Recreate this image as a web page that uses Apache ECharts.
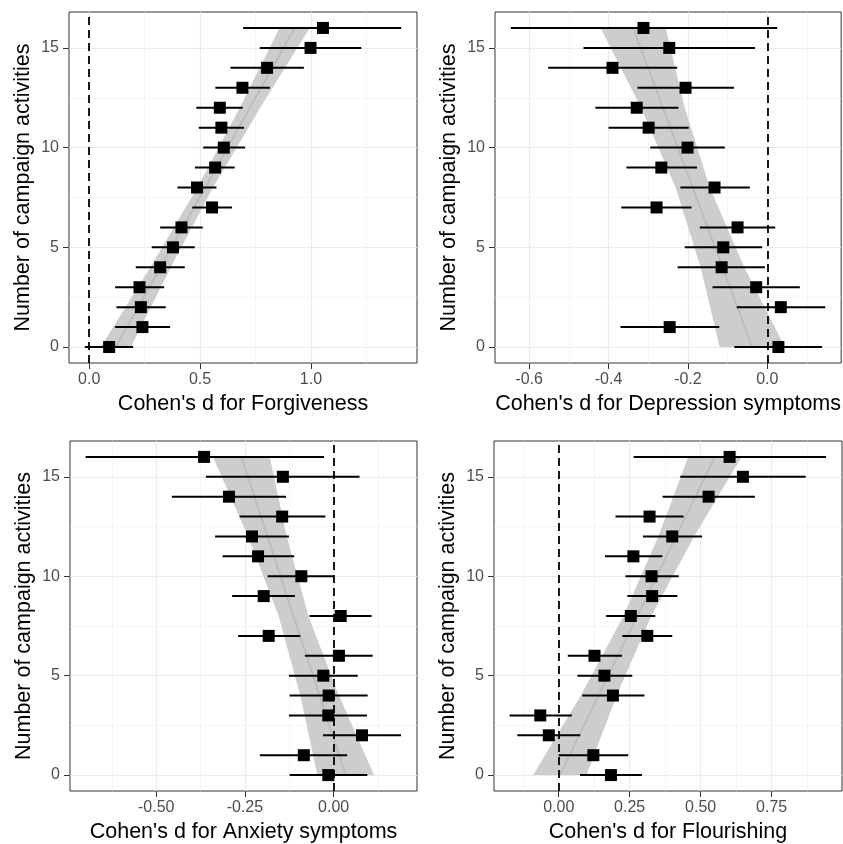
<!DOCTYPE html>
<html>
<head>
<meta charset="utf-8">
<script src="https://cdn.jsdelivr.net/npm/echarts@6/dist/echarts.min.js"></script>
<style>
  html, body { margin: 0; padding: 0; background: #fff; }
  #chart_box { width: 843px; height: 844px; }
</style>
</head>
<body>
<div id="chart_box"></div>
<script>
// number of campaign activities (y of every row)
var activityCounts = [0, 1, 2, 3, 4, 5, 6, 7, 8, 9, 10, 11, 12, 13, 14, 15, 16];
var yTicks = [0, 5, 10, 15];

// Forgiveness
var forgEst = [0.090, 0.240, 0.233, 0.227, 0.320, 0.378, 0.416, 0.554, 0.486, 0.568, 0.607, 0.596, 0.589, 0.691, 0.802, 0.998, 1.054];
var forgLo  = [-0.020, 0.117, 0.123, 0.117, 0.210, 0.282, 0.320, 0.465, 0.398, 0.477, 0.514, 0.494, 0.483, 0.569, 0.637, 0.769, 0.694];
var forgHi  = [0.198, 0.365, 0.345, 0.338, 0.431, 0.476, 0.512, 0.644, 0.574, 0.656, 0.703, 0.698, 0.692, 0.815, 0.968, 1.227, 1.407];

// Depression symptoms
var deprEst = [0.028, -0.246, 0.034, -0.028, -0.115, -0.111, -0.075, -0.279, -0.133, -0.267, -0.201, -0.299, -0.329, -0.206, -0.390, -0.247, -0.312];
var deprLo  = [-0.083, -0.370, -0.077, -0.138, -0.226, -0.208, -0.170, -0.368, -0.219, -0.355, -0.295, -0.400, -0.433, -0.327, -0.552, -0.463, -0.646];
var deprHi  = [0.138, -0.121, 0.146, 0.082, -0.006, -0.013, 0.020, -0.191, -0.044, -0.177, -0.107, -0.198, -0.224, -0.084, -0.227, -0.031, 0.025];

// Anxiety symptoms
var anxEst = [-0.015, -0.084, 0.080, -0.015, -0.014, -0.029, 0.015, -0.183, 0.020, -0.197, -0.091, -0.213, -0.230, -0.145, -0.295, -0.143, -0.365];
var anxLo  = [-0.124, -0.208, -0.030, -0.126, -0.124, -0.126, -0.081, -0.269, -0.068, -0.286, -0.186, -0.313, -0.334, -0.265, -0.456, -0.360, -0.699];
var anxHi  = [0.095, 0.038, 0.190, 0.094, 0.096, 0.068, 0.110, -0.094, 0.107, -0.109, 0.000, -0.111, -0.126, -0.023, -0.134, 0.073, -0.027];

// Flourishing
var flourEst = [0.184, 0.122, -0.035, -0.065, 0.191, 0.161, 0.126, 0.312, 0.254, 0.329, 0.327, 0.263, 0.400, 0.320, 0.528, 0.649, 0.602];
var flourLo  = [0.075, 0.000, -0.146, -0.173, 0.083, 0.066, 0.032, 0.224, 0.167, 0.242, 0.235, 0.163, 0.297, 0.200, 0.366, 0.428, 0.264];
var flourHi  = [0.293, 0.245, 0.076, 0.046, 0.302, 0.259, 0.223, 0.400, 0.340, 0.418, 0.423, 0.365, 0.505, 0.440, 0.691, 0.870, 0.942];

// regression band (read at these y levels) and fitted line ends (y = 0 and y = 16)
var bandY = [0, 4, 8, 12, 16];
var forgBandLo  = [0.052, 0.276, 0.488, 0.679, 0.858];
var forgBandHi  = [0.188, 0.368, 0.558, 0.771, 0.994];
var deprBandLo  = [-0.120, -0.168, -0.231, -0.318, -0.420];
var deprBandHi  = [0.044, -0.058, -0.145, -0.208, -0.256];
var anxBandLo   = [-0.046, -0.094, -0.155, -0.241, -0.340];
var anxBandHi   = [0.114, 0.015, -0.071, -0.132, -0.180];
var flourBandLo = [-0.090, 0.078, 0.228, 0.351, 0.456];
var flourBandHi = [0.098, 0.204, 0.326, 0.477, 0.644];
var fitY = [0, 16];
var forgFit  = [0.120, 0.926];
var deprFit  = [-0.038, -0.338];
var anxFit   = [0.034, -0.260];
var flourFit = [0.004, 0.550];

// x axis ticks
var forgTicks  = [0, 0.5, 1.0];
var deprTicks  = [-0.6, -0.4, -0.2, 0.0];
var anxTicks   = [-0.5, -0.25, 0.0];
var flourTicks = [0, 0.25, 0.5, 0.75];

var panels = [
  { title: "Cohen's d for Forgiveness", est: forgEst, lo: forgLo, hi: forgHi, bLo: forgBandLo, bHi: forgBandHi, fit: forgFit,
    ticks: forgTicks, step: 0.5, dec: 1, min: -0.091, max: 1.478 },
  { title: "Cohen's d for Depression symptoms", est: deprEst, lo: deprLo, hi: deprHi, bLo: deprBandLo, bHi: deprBandHi, fit: deprFit,
    ticks: deprTicks, step: 0.2, dec: 1, min: -0.686, max: 0.186 },
  { title: "Cohen's d for Anxiety symptoms", est: anxEst, lo: anxLo, hi: anxHi, bLo: anxBandLo, bHi: anxBandHi, fit: anxFit,
    ticks: anxTicks, step: 0.25, dec: 2, min: -0.743, max: 0.235 },
  { title: "Cohen's d for Flourishing", est: flourEst, lo: flourLo, hi: flourHi, bLo: flourBandLo, bHi: flourBandHi, fit: flourFit,
    ticks: flourTicks, step: 0.25, dec: 2, min: -0.228, max: 0.998 }
];

var gridPos = [
  { left: 69, top: 12, width: 348, height: 351 },
  { left: 495, top: 12, width: 347, height: 351 },
  { left: 70, top: 441, width: 347, height: 351 },
  { left: 494, top: 441, width: 348, height: 351 }
];

var FONT = "Liberation Sans, Arial, sans-serif";
var grids = [], xAxes = [], yAxes = [], series = [];

panels.forEach(function (p, i) {
  grids.push(Object.assign({
    show: true, backgroundColor: "#fff", borderColor: "#333", borderWidth: 1
  }, gridPos[i]));

  xAxes.push({
    type: "value", gridIndex: i, min: p.min, max: p.max,
    minInterval: p.step, maxInterval: p.step, splitNumber: 4,
    name: p.title, nameLocation: "middle", nameGap: 30,
    nameTextStyle: { color: "#000", fontSize: 21.5, fontFamily: FONT },
    axisLine: { show: false, onZero: false },
    axisTick: { show: true, length: 6, customValues: p.ticks, lineStyle: { color: "#333", width: 1 } },
    axisLabel: {
      customValues: p.ticks, margin: 9, color: "#4D4D4D", fontSize: 16, fontFamily: FONT,
      formatter: function (v) { return v.toFixed(p.dec); }
    },
    splitLine: { show: true, lineStyle: { color: "#EBEBEB", width: 1.2 } },
    minorTick: { show: false, splitNumber: 2 },
    minorSplitLine: { show: true, lineStyle: { color: "#F0F0F0", width: 0.7 } }
  });

  yAxes.push({
    type: "value", gridIndex: i, min: -0.8, max: 16.8,
    minInterval: 5, maxInterval: 5, splitNumber: 4,
    name: "Number of campaign activities", nameLocation: "middle", nameGap: 35,
    nameTextStyle: { color: "#000", fontSize: 21.5, fontFamily: FONT },
    axisLine: { show: false, onZero: false },
    axisTick: { show: true, length: 6, customValues: yTicks, lineStyle: { color: "#333", width: 1 } },
    axisLabel: { customValues: yTicks, margin: 10, color: "#4D4D4D", fontSize: 16, fontFamily: FONT },
    splitLine: { show: true, lineStyle: { color: "#EBEBEB", width: 1.2 } },
    minorTick: { show: false, splitNumber: 2 },
    minorSplitLine: { show: true, lineStyle: { color: "#F0F0F0", width: 0.7 } }
  });

  // confidence band
  series.push({
    type: "custom", xAxisIndex: i, yAxisIndex: i, z: 1, silent: true,
    data: bandY.map(function (y, k) { return [p.bLo[k], p.bHi[k], y]; }),
    encode: { x: [0, 1], y: 2 },
    renderItem: function (params, api) {
      if (params.dataIndex !== 0) return null;
      var pts = [];
      bandY.forEach(function (y, k) { pts.push(api.coord([p.bLo[k], y])); });
      for (var k = bandY.length - 1; k >= 0; k--) pts.push(api.coord([p.bHi[k], bandY[k]]));
      return { type: "polygon", shape: { points: pts }, style: { fill: "#CDCDCD" } };
    }
  });

  // fitted line + dashed zero line
  series.push({
    type: "line", xAxisIndex: i, yAxisIndex: i, z: 2, silent: true,
    data: fitY.map(function (y, k) { return [p.fit[k], y]; }),
    symbol: "none", lineStyle: { color: "#BDBDBD", width: 2 },
    markLine: {
      silent: true, symbol: "none", label: { show: false },
      lineStyle: { color: "#000", type: [8, 5], width: 1.8 },
      data: [{ xAxis: 0 }]
    }
  });

  // horizontal error bars
  series.push({
    type: "custom", xAxisIndex: i, yAxisIndex: i, z: 3, silent: true,
    data: activityCounts.map(function (y, k) { return [p.lo[k], p.hi[k], y]; }),
    encode: { x: [0, 1], y: 2 },
    renderItem: function (params, api) {
      var a = api.coord([api.value(0), api.value(2)]);
      var b = api.coord([api.value(1), api.value(2)]);
      return { type: "line", shape: { x1: a[0], y1: a[1], x2: b[0], y2: b[1] },
               style: { stroke: "#000", lineWidth: 2 } };
    }
  });

  // point estimates
  series.push({
    type: "scatter", xAxisIndex: i, yAxisIndex: i, z: 4, silent: true,
    data: activityCounts.map(function (y, k) { return [p.est[k], y]; }),
    symbol: "rect", symbolSize: 12, itemStyle: { color: "#000", opacity: 1 }
  });
});

var mycharts = echarts.init(document.getElementById("chart_box"));
mycharts.setOption({
  animation: false,
  backgroundColor: "#fff",
  grid: grids,
  xAxis: xAxes,
  yAxis: yAxes,
  series: series
});
</script>
</body>
</html>
